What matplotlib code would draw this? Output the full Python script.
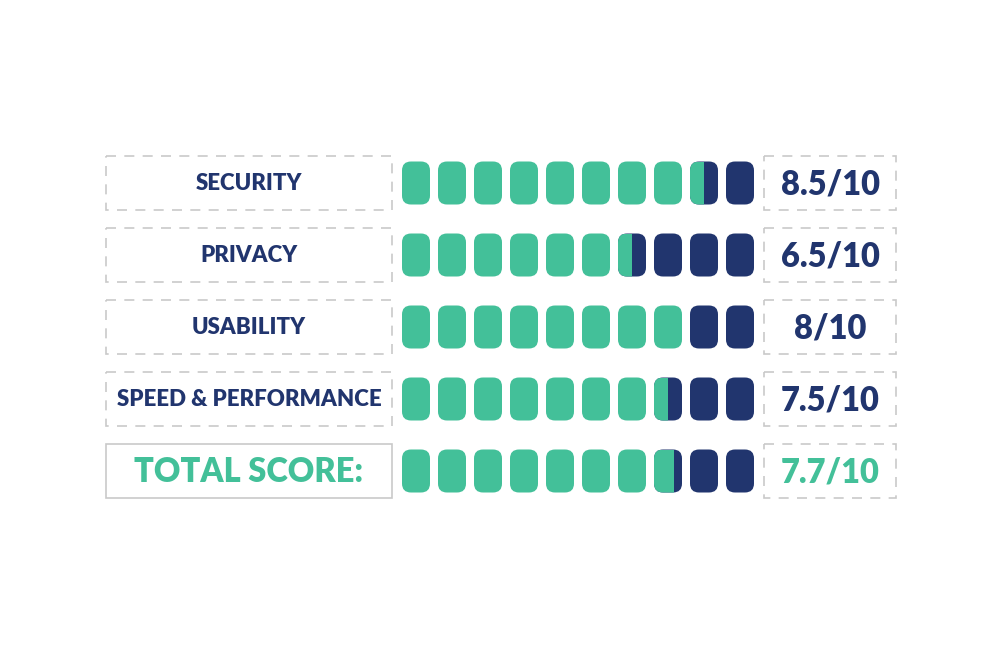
import matplotlib.pyplot as plt
from matplotlib.patches import FancyBboxPatch, Rectangle

# data
categories = ['SECURITY', 'PRIVACY', 'USABILITY', 'SPEED & PERFORMANCE', 'TOTAL SCORE:']
scores = [8.5, 6.5, 8, 7.5, 7.7]
score_labels = ['8.5/10', '6.5/10', '8/10', '7.5/10', '7.7/10']
max_score = 10

green = '#43c099'
navy = '#21356e'
grey = '#c9c9c9'

plt.rcParams['font.family'] = ['Lato', 'DejaVu Sans']

fig = plt.figure(figsize=(10, 6.58), dpi=100)
ax = fig.add_axes([0, 0, 1, 1])
ax.set_xlim(0, 1000)
ax.set_ylim(658, 0)
ax.axis('off')

# layout (pixels)
row0, row_step = 183, 72
box_h = 54
left_x0, left_x1 = 106, 392
right_x0, right_x1 = 764, 896
pill_x0, pill_step, pill_w, pill_h = 402, 36, 28, 43
rnd = 'round,pad=0,rounding_size=9'

for i, (cat, val, lab) in enumerate(zip(categories, scores, score_labels)):
    yc = row0 + i * row_step
    is_total = i == len(categories) - 1

    # label box
    ax.add_patch(Rectangle((left_x0, yc - box_h / 2), left_x1 - left_x0, box_h,
                           fill=False, ec=grey, lw=1.2,
                           ls='-' if is_total else (0, (6, 5))))
    ax.add_patch(Rectangle((right_x0, yc - box_h / 2), right_x1 - right_x0, box_h,
                           fill=False, ec=grey, lw=1.2, ls=(0, (6, 5))))

    ax.text((left_x0 + left_x1) / 2, yc + 1, cat, ha='center', va='center',
            fontsize=23.5 if is_total else 16, fontweight='heavy',
            color=green if is_total else navy)
    ax.text((right_x0 + right_x1) / 2, yc + 1, lab, ha='center', va='center',
            fontsize=23.5, fontweight='heavy', color=green if is_total else navy)

    # pills
    for k in range(max_score):
        x = pill_x0 + k * pill_step
        fill = min(max(val - k, 0), 1)
        base = FancyBboxPatch((x, yc - pill_h / 2), pill_w, pill_h, boxstyle=rnd,
                              fc=navy if fill < 1 else green, ec='none')
        ax.add_patch(base)
        if 0 < fill < 1:
            part = FancyBboxPatch((x, yc - pill_h / 2), pill_w, pill_h, boxstyle=rnd,
                                  fc=green, ec='none')
            ax.add_patch(part)
            clip = Rectangle((x, yc - pill_h / 2), pill_w * fill, pill_h,
                             transform=ax.transData)
            part.set_clip_path(clip)

fig.savefig('out.png', dpi=100)
